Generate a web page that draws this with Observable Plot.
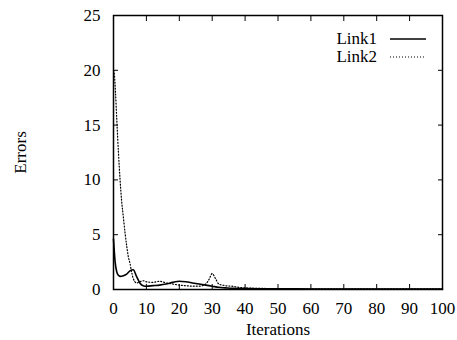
<!DOCTYPE html>
<html>
<head>
<meta charset="utf-8">
<script src="https://cdn.jsdelivr.net/npm/d3@7"></script>
<script src="https://cdn.jsdelivr.net/npm/@observablehq/plot@0.6"></script>
<style>
  html, body { margin: 0; padding: 0; background: #fff; }
  #wrap { position: relative; width: 457px; height: 340px; font-family: "Liberation Serif", "DejaVu Serif", serif; }
  #legend { position: absolute; top: 30px; right: 31px; font-size: 17px; line-height: 18px; color: #000; }
  #legend div { display: flex; align-items: center; justify-content: flex-end; }
  #legend svg { margin-left: 13px; }
</style>
</head>
<body>
<div id="wrap"></div>
<script>
const seriesNames = ["Link1", "Link2"];

const link1Iter = [0, 0.5, 1, 1.5, 2, 3, 4, 5, 6, 7, 8, 9, 10, 12, 14, 16, 18, 20, 22, 24, 26, 28, 30, 32, 34, 36, 40, 50, 60, 70, 80, 90, 100];
const link1Err  = [4.6, 2.5, 1.6, 1.3, 1.2, 1.25, 1.4, 1.7, 1.8, 1.2, 0.6, 0.35, 0.3, 0.35, 0.4, 0.5, 0.65, 0.75, 0.7, 0.6, 0.5, 0.4, 0.3, 0.2, 0.15, 0.1, 0.08, 0.06, 0.05, 0.05, 0.05, 0.05, 0.05];

const link2Iter = [0, 0.3, 0.6, 1, 1.5, 2, 2.5, 3, 3.5, 4, 4.5, 5, 5.5, 6, 7, 8, 9, 10, 12, 14, 16, 18, 20, 22, 24, 26, 28, 29, 30, 31, 32, 34, 36, 38, 40, 45, 50, 60, 70, 80, 90, 100];
const link2Err  = [20, 19.5, 18, 15.5, 12.5, 10, 8, 6.6, 5.2, 4, 3, 2.4, 1.6, 1.0, 0.6, 0.7, 0.8, 0.7, 0.65, 0.75, 0.6, 0.5, 0.4, 0.35, 0.3, 0.3, 0.5, 0.9, 1.45, 1.0, 0.5, 0.35, 0.3, 0.2, 0.15, 0.1, 0.08, 0.06, 0.05, 0.05, 0.05, 0.05];

const xTicks = [0, 10, 20, 30, 40, 50, 60, 70, 80, 90, 100];
const yTicks = [0, 5, 10, 15, 20, 25];

const link1 = link1Iter.map((x, i) => ({x, y: link1Err[i]}));
const link2 = link2Iter.map((x, i) => ({x, y: link2Err[i]}));

const chart = Plot.plot({
  width: 457,
  height: 340,
  marginLeft: 113,
  marginRight: 15,
  marginTop: 15,
  marginBottom: 51,
  style: { fontFamily: "Liberation Serif, DejaVu Serif, serif", fontSize: "17px", color: "#000", background: "#fff" },
  x: { domain: [0, 100] },
  y: { domain: [0, 25] },
  marks: [
    Plot.axisX({ticks: xTicks, tickSize: 0, tickPadding: 12, fontSize: 17, label: "Iterations", labelAnchor: "center", labelOffset: 45, labelArrow: false}),
    Plot.axisX({ticks: xTicks, tickSize: -5, text: null, label: null, strokeWidth: 1}),
    Plot.axisX({ticks: xTicks, anchor: "top", tickSize: -5, text: null, label: null, strokeWidth: 1}),
    Plot.axisY({ticks: yTicks, tickSize: 0, tickPadding: 13, fontSize: 17, label: "Errors", labelAnchor: "center", labelOffset: 100, labelArrow: false}),
    Plot.axisY({ticks: yTicks, tickSize: -5, text: null, label: null, strokeWidth: 1}),
    Plot.axisY({ticks: yTicks, anchor: "right", tickSize: -5, text: null, label: null, strokeWidth: 1}),
    Plot.line(link1, {x: "x", y: "y", stroke: "#000", strokeWidth: 1.6, curve: "monotone-x"}),
    Plot.line(link2, {x: "x", y: "y", stroke: "#000", strokeWidth: 1.2, strokeDasharray: "1,2", curve: "monotone-x"}),
    Plot.frame({stroke: "#000", strokeWidth: 1.5})
  ]
});

const wrap = document.getElementById("wrap");
wrap.appendChild(chart);

const legend = document.createElement("div");
legend.id = "legend";
legend.innerHTML = seriesNames.map((name, i) =>
  `<div><span>${name}</span><svg width="36" height="6"><line x1="0" x2="36" y1="3" y2="3" stroke="#000" stroke-width="${i === 0 ? 1.6 : 1.2}" ${i === 1 ? 'stroke-dasharray="1,2"' : ''}/></svg></div>`
).join("");
wrap.appendChild(legend);
</script>
</body>
</html>
